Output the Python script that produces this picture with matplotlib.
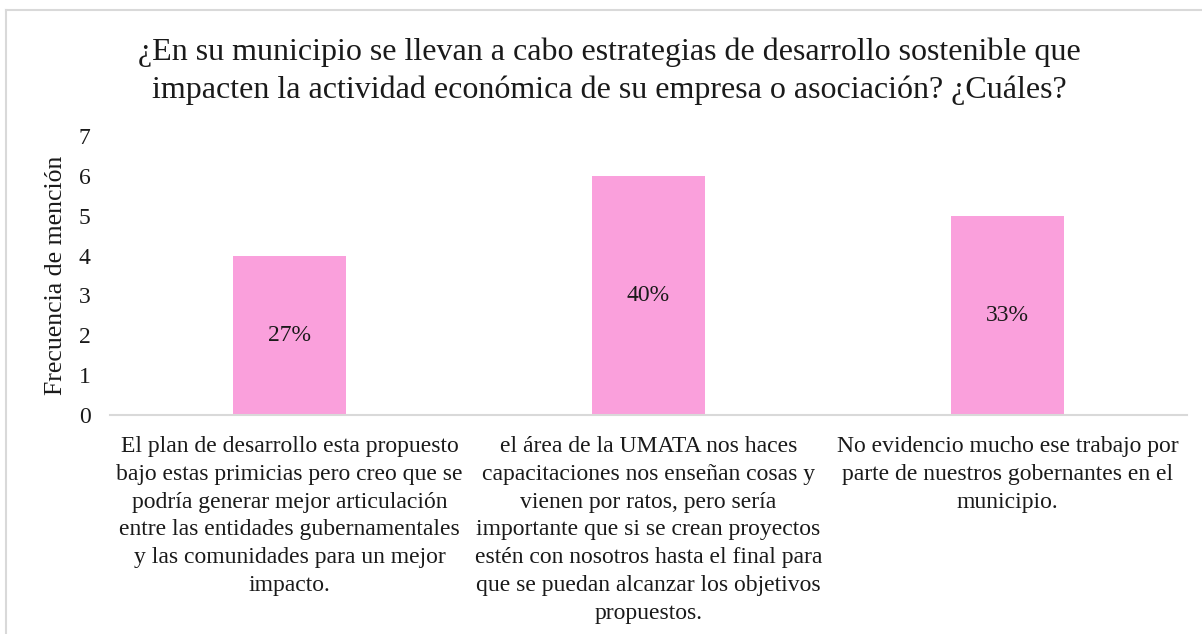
import matplotlib
matplotlib.use("Agg")
import matplotlib.pyplot as plt
from matplotlib.lines import Line2D

plt.rcParams['font.family'] = ['Liberation Serif', 'DejaVu Serif']

categories = [
    "El plan de desarrollo esta propuesto\nbajo estas primicias pero creo que se\npodría generar mejor articulación\nentre las entidades gubernamentales\ny las comunidades para un mejor\nimpacto.",
    "el área de la UMATA nos haces\ncapacitaciones nos enseñan cosas y\nvienen por ratos, pero sería\nimportante que si se crean proyectos\nestén con nosotros hasta el final para\nque se puedan alcanzar los objetivos\npropuestos.",
    "No evidencio mucho ese trabajo por\nparte de nuestros gobernantes en el\nmunicipio.",
]
values = [4, 6, 5]
percent_labels = ["27%", "40%", "33%"]
yticks = [0, 1, 2, 3, 4, 5, 6, 7]

title = ("¿En su municipio se llevan a cabo estrategias de desarrollo sostenible que\n"
         "impacten la actividad económica de su empresa o asociación? ¿Cuáles?")

W, H = 1202, 634
fig = plt.figure(figsize=(W / 100, H / 100), dpi=100)
ax = fig.add_axes([110 / W, 1 - 415 / H, (1187 - 110) / W, (415 - 136) / H])

x = range(len(values))
bars = ax.bar(x, values, width=0.315, color="#FAA0DC", zorder=2)
for b, lab in zip(bars, percent_labels):
    ax.text(b.get_x() + b.get_width() / 2, b.get_height() / 2, lab,
            ha="center", va="center", fontsize=17, color="#1a1a1a")

ax.set_xlim(-0.5, len(values) - 0.5)
ax.set_ylim(0, 7)
ax.set_yticks(yticks)
ax.set_yticklabels([str(t) for t in yticks], fontsize=17)
ax.set_xticks(list(x))
ax.set_xticklabels(categories, fontsize=17, linespacing=1.43, va="top")
ax.tick_params(axis="both", length=0, colors="#1a1a1a")
ax.tick_params(axis="y", pad=14)
ax.tick_params(axis="x", pad=15)

for s in ["top", "right", "left"]:
    ax.spines[s].set_visible(False)
ax.spines["bottom"].set_color("#D9D9D9")
ax.spines["bottom"].set_linewidth(1.5)

ax.set_ylabel("Frecuencia de mención", fontsize=18.5, color="#1a1a1a")
ax.yaxis.set_label_coords((67 - 110) / (1187 - 110), 0.5)

fig.text(609 / W, 1 - 71 / H, title, ha="center", va="center", fontsize=23,
         linespacing=1.39, color="#1a1a1a")

# frame: top and left edges only
fig.add_artist(Line2D([5.5 / W, 1], [1 - 9.5 / H, 1 - 9.5 / H], transform=fig.transFigure,
                      color="#D9D9D9", linewidth=1.5))
fig.add_artist(Line2D([5.5 / W, 5.5 / W], [0, 1 - 9.5 / H], transform=fig.transFigure,
                      color="#D9D9D9", linewidth=1.5))

fig.savefig("out.png", dpi=100)
